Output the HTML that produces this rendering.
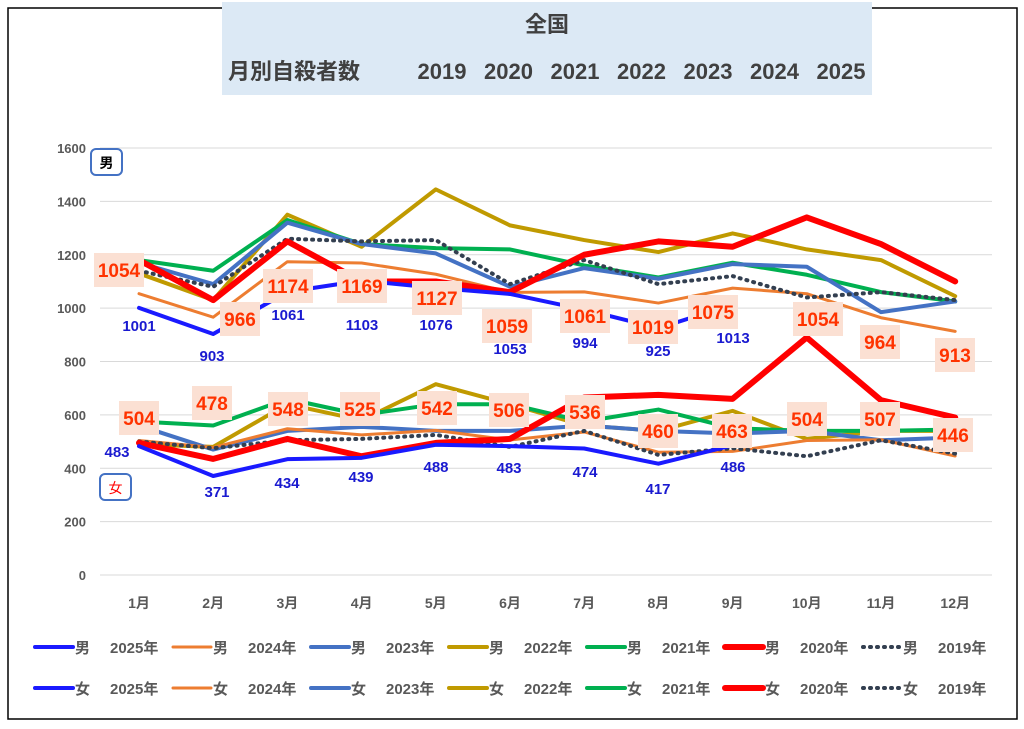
<!DOCTYPE html>
<html><head><meta charset="utf-8">
<style>
body{margin:0;background:#fff;width:1024px;height:724px;overflow:hidden;font-family:"Liberation Sans","Noto Sans CJK JP",sans-serif}
</style></head><body>
<svg id="s" width="1024" height="724" xmlns="http://www.w3.org/2000/svg" font-family="Liberation Sans, Noto Sans CJK JP, sans-serif"></svg>
<script>
const s=document.getElementById('s');let h='';
h+='<rect x="8" y="8" width="1009" height="711" fill="#fff" stroke="#000" stroke-width="1.5"/>';
h+='<rect x="222" y="2" width="650" height="93" fill="#dce9f5"/>';
h+='<text x="547" y="32" font-size="22" font-weight="bold" fill="#404040" text-anchor="middle">全国</text>';
h+='<text x="228" y="79" font-size="22" font-weight="bold" fill="#404040">月別自殺者数</text>';
['2019','2020','2021','2022','2023','2024','2025'].forEach((t,i)=>h+=`<text x="${442+i*66.5}" y="79" font-size="22" font-weight="bold" fill="#404040" text-anchor="middle">${t}</text>`);
const Y=v=>575-v*427/1600, X=i=>139+i*74.2;
for(let v=0;v<=1600;v+=200){h+=`<line x1="100" x2="992" y1="${Y(v)}" y2="${Y(v)}" stroke="#d9d9d9"/>`;h+=`<text x="86" y="${Y(v)+5}" font-size="13" font-weight="bold" fill="#595959" text-anchor="end">${v}</text>`;}
for(let i=0;i<12;i++)h+=`<text x="${X(i)}" y="608" font-size="14" font-weight="bold" fill="#595959" text-anchor="middle">${i+1}月</text>`;
const S=[
['#c09a00',4,'',[1130,1030,1350,1230,1445,1310,1255,1210,1280,1220,1180,1045],[490,480,640,580,715,640,560,540,615,510,540,540]],
['#00b050',4,'',[1180,1140,1330,1240,1225,1220,1160,1115,1170,1125,1060,1025],[575,560,660,600,640,640,575,620,550,540,540,545]],
['#4472c4',4,'',[1170,1090,1320,1240,1205,1080,1150,1110,1165,1155,985,1025],[560,470,540,555,540,540,560,540,530,540,505,515]],
['#ed7d31',3,'',[1054,966,1174,1169,1127,1059,1061,1019,1075,1054,964,913],[504,478,548,525,542,506,536,460,463,504,507,446]],
['#333f50',4,'1 6',[1140,1080,1260,1250,1255,1090,1180,1090,1120,1040,1060,1030],[500,475,505,510,525,480,540,450,475,445,505,455]],
['#ff0000',6,'',[1180,1030,1250,1100,1100,1060,1200,1250,1230,1340,1240,1100],[495,435,510,445,495,510,665,675,660,890,655,590]],
['#1a1aff',4,'',[1001,903,1061,1103,1076,1053,994,925,1013],[483,371,434,439,488,483,474,417,486]]];
S.forEach(([c,w,d,m,f])=>[m,f].forEach(a=>{h+=`<polyline fill="none" stroke="${c}" stroke-width="${w}" stroke-linejoin="round" stroke-linecap="round" ${d?`stroke-dasharray="${d}"`:''} points="${a.map((v,i)=>X(i)+','+Y(v)).join(' ')}"/>`;}));
const lb=(x,y,t)=>{const w=t.length*10+10;h+=`<rect x="${x-w/2}" y="${y-17}" width="${w}" height="34" fill="#fbe0d3"/><text x="${x}" y="${y+7}" font-size="19" font-weight="bold" fill="#ff3300" text-anchor="middle">${t}</text>`;};
[[119,270,1054],[240,319,966],[288,286,1174],[362,286,1169],[437,298,1127],[507,326,1059],[585,316,1061],[653,327,1019],[713,312,1075],[818,319,1054],[880,342,964],[955,355,913],
[139,418,504],[212,403,478],[288,409,548],[360,409,525],[437,408,542],[509,410,506],[585,412,536],[658,431,460],[732,431,463],[807,419,504],[880,419,507],[953,435,446]].forEach(a=>lb(a[0],a[1],''+a[2]));
[[139,325,1001],[212,355,903],[288,314,1061],[362,324,1103],[436,324,1076],[510,348,1053],[585,342,994],[658,350,925],[733,337,1013],
[117,451,483],[217,491,371],[287,482,434],[361,476,439],[436,466,488],[509,467,483],[585,471,474],[658,488,417],[733,466,486]].forEach(a=>h+=`<text x="${a[0]}" y="${a[1]+6}" font-size="15" font-weight="bold" fill="#1a1ad0" text-anchor="middle">${a[2]}</text>`);
h+='<rect x="91" y="149" width="31" height="26" rx="5" fill="#fff" stroke="#4472c4" stroke-width="2"/><text x="106.5" y="168" font-size="14" font-weight="bold" text-anchor="middle">男</text>';
h+='<rect x="100" y="474" width="31" height="26" rx="5" fill="#fff" stroke="#4472c4" stroke-width="2"/><text x="115.5" y="493" font-size="14" fill="#ff0000" text-anchor="middle">女</text>';
const L=[['#1a1aff',4,'','2025年'],['#ed7d31',3,'','2024年'],['#4472c4',4,'','2023年'],['#c09a00',4,'','2022年'],['#00b050',4,'','2021年'],['#ff0000',6,'','2020年'],['#333f50',4,'1 6','2019年']];
['男','女'].forEach((g,r)=>{const y=r?688:647;L.forEach((l,i)=>{const x=35+i*138;h+=`<line x1="${x}" x2="${x+38}" y1="${y}" y2="${y}" stroke="${l[0]}" stroke-width="${l[1]}" stroke-linecap="round" ${l[2]?`stroke-dasharray="${l[2]}"`:''}/><text x="${x+40}" y="${y+6}" font-size="15" font-weight="bold" fill="#595959">${g}</text><text x="${x+75}" y="${y+6}" font-size="15" font-weight="bold" fill="#595959">${l[3]}</text>`;});});
s.innerHTML=h;
</script>
</body></html>
